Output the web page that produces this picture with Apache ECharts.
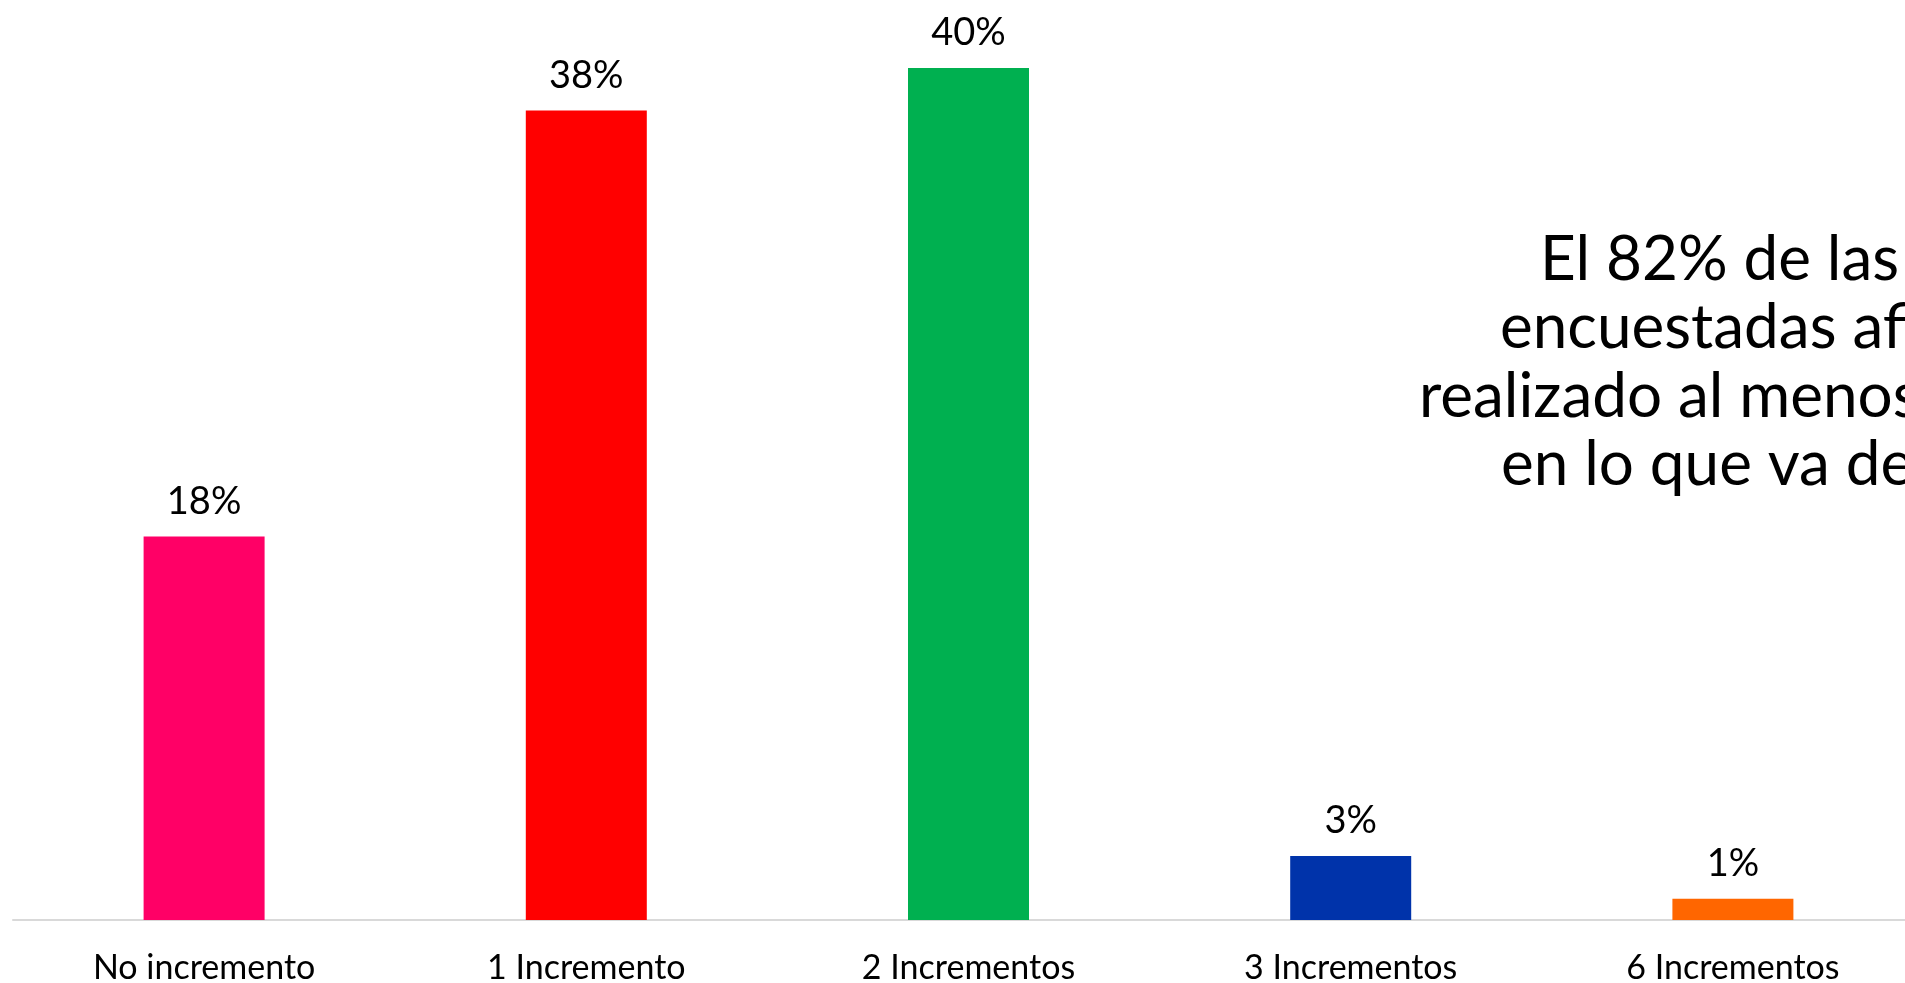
<!DOCTYPE html>
<html>
<head>
<meta charset="utf-8">
<script src="https://cdn.jsdelivr.net/npm/echarts@6/dist/echarts.min.js"></script>
<style>
html,body{margin:0;padding:0;background:#fff;overflow:hidden;}
#chart{width:1905px;height:983px;}
</style>
</head>
<body>
<div id="chart"></div>
<script>
const categories = ['No incremento', '1 Incremento', '2 Incrementos', '3 Incrementos', '6 Incrementos'];
const values = [18, 38, 40, 3, 1];
const noteLines = ['El 82% de las', 'encuestadas afirman', 'realizado al menos', 'en lo que va del'];

const barColors = ['#FF0066', '#FF0000', '#00B050', '#0033AA', '#FF6600'];
const FONT = 'Lato';
const noteX = [1540, 1500, 1419, 1501];
const noteBaseline = [280, 348.5, 417, 485.5];
const noteSize = 62;

const chart = echarts.init(document.getElementById('chart'));
chart.setOption({
  animation: false,
  backgroundColor: '#ffffff',
  grid: { left: 13, top: 68, width: 1911, height: 852, containLabel: false, outerBoundsMode: 'none' },
  xAxis: {
    type: 'category',
    data: categories,
    axisLine: { show: true, lineStyle: { color: '#d9d9d9', width: 2 } },
    axisTick: { show: false },
    axisLabel: { interval: 0, fontSize: 34, color: '#000', fontFamily: FONT, margin: 31 }
  },
  yAxis: {
    type: 'value', min: 0, max: 40, show: false,
    splitLine: { show: false }
  },
  series: [{
    type: 'bar',
    barWidth: 121,
    data: values.map((v, i) => ({ value: v, itemStyle: { color: barColors[i] } })),
    label: {
      show: true, position: 'top', distance: 16,
      formatter: '{c}%', fontSize: 38, color: '#000', fontFamily: FONT
    }
  }],
  graphic: noteLines.map((t, i) => ({
    type: 'text',
    left: noteX[i],
    top: noteBaseline[i] - noteSize * 0.83,
    style: { text: t, fontSize: noteSize, fontFamily: FONT, fill: '#000' }
  }))
});
</script>
</body>
</html>
